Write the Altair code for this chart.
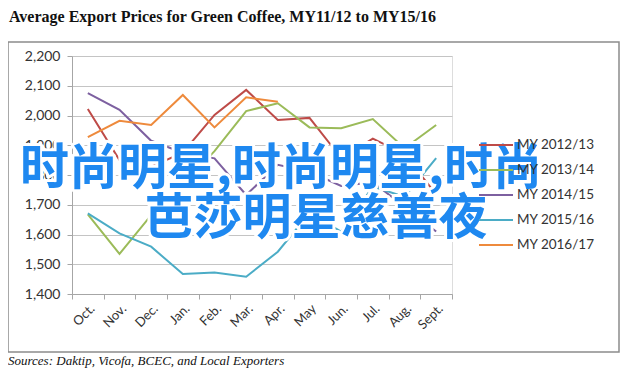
import altair as alt
import pandas as pd

months = ["Oct.", "Nov.", "Dec.", "Jan.", "Feb.", "Mar.", "Apr.", "May", "Jun.", "Jul.", "Aug.", "Sept."]
series_names = ["MY 2012/13", "MY 2013/14", "MY 2014/15", "MY 2015/16", "MY 2016/17"]
my1213 = [2022, 1850, 1828, 1875, 2002, 2086, 1985, 1992, 1857, 1922, 1870, 1735]
my1314 = [1668, 1535, 1665, 1770, 1880, 2015, 2041, 1960, 1957, 1988, 1890, 1968]
my1415 = [2075, 2019, 1915, 1875, 1856, 1733, 1834, 1811, 1763, 1776, 1693, 1610]
my1516 = [1671, 1604, 1559, 1467, 1472, 1458, 1542, 1672, 1610, 1761, 1727, 1857]
my1617 = [1927, 1982, 1968, 2069, 1960, 2061, 2046]
y_ticks = [1400, 1500, 1600, 1700, 1800, 1900, 2000, 2100, 2200]

title_text = "Average Export Prices for Green Coffee, MY11/12 to MY15/16"
source_text = "Sources: Daktip, Vicofa, BCEC, and Local Exporters"
overlay_line1 = "时尚明星,时尚明星,时尚"
overlay_line2 = "芭莎明星慈善夜"

colors = ["#BE4B48", "#9BBB59", "#7D60A0", "#4BACC6", "#EE8A3C"]
widths = [2, 2, 2, 2, 5]

rows = []
for name, vals in zip(series_names, [my1213, my1314, my1415, my1516, my1617]):
    for m, v in zip(months, vals):
        rows.append({"month": m, "series": name, "price": v})
df = pd.DataFrame(rows)

legend_kw = dict(
    title=None, orient="none", legendX=406, legendY=71,
    symbolType="stroke", symbolSize=1156, labelFont="Lato", labelFontSize=13.5,
    labelColor="#333333", labelOffset=3, rowPadding=-2, padding=0,
)

lines = alt.Chart(df).mark_line(strokeJoin="miter").encode(
    x=alt.X("month:N", sort=months,
            scale=alt.Scale(type="band", paddingInner=0, paddingOuter=0),
            axis=alt.Axis(title=None, tickBand="extent", labelAngle=-45, grid=False,
                          domainColor="#A6A6A6", tickColor="#A6A6A6", tickSize=5,
                          labelFont="Lato", labelFontSize=13, labelColor="#333333",
                          labelPadding=3)),
    y=alt.Y("price:Q", scale=alt.Scale(domain=[1400, 2200], nice=False, zero=False),
            axis=alt.Axis(title=None, values=y_ticks, format=",.0f", grid=True,
                          gridColor="#C4C4C4", domainColor="#A6A6A6", tickColor="#A6A6A6",
                          tickSize=5, labelFont="Lato", labelFontSize=14,
                          labelColor="#333333", labelPadding=7)),
    color=alt.Color("series:N", sort=series_names,
                    scale=alt.Scale(domain=series_names, range=colors),
                    legend=alt.Legend(**legend_kw)),
    strokeWidth=alt.StrokeWidth("series:N", sort=series_names,
                                scale=alt.Scale(domain=series_names, range=widths),
                                legend=alt.Legend(**legend_kw)),
    detail="series:N",
)

one = pd.DataFrame({"k": [0]})

frame = alt.Chart(one).mark_rect(fillOpacity=0, stroke="#8C8C8C", strokeWidth=1.5).encode(
    x=alt.value(-64), x2=alt.value(547), y=alt.value(-14), y2=alt.value(296)
)

title = alt.Chart(pd.DataFrame({"t": [title_text]})).mark_text(
    font="Liberation Serif", fontWeight="bold", fontSize=16, align="left",
    baseline="alphabetic", color="#111111"
).encode(text="t:N", x=alt.value(-63), y=alt.value(-34))

source = alt.Chart(pd.DataFrame({"t": [source_text]})).mark_text(
    font="Liberation Serif", fontStyle="italic", fontSize=13, align="left",
    baseline="alphabetic", color="#111111"
).encode(text="t:N", x=alt.value(-64), y=alt.value(309))


def overlay(text, x, y):
    d = pd.DataFrame({"t": [text]})
    halo = alt.Chart(d).mark_text(
        font="Noto Sans CJK SC", fontWeight="bold", fontSize=49, align="center",
        baseline="middle", fill="white", stroke="white", strokeWidth=6, strokeJoin="round"
    ).encode(text="t:N", x=alt.value(x), y=alt.value(y))
    fill = alt.Chart(d).mark_text(
        font="Noto Sans CJK SC", fontWeight="bold", fontSize=49, align="center",
        baseline="middle", fill="#1E88F0"
    ).encode(text="t:N", x=alt.value(x), y=alt.value(y))
    return halo, fill


h1, f1 = overlay(overlay_line1, 209, 113)
h2, f2 = overlay(overlay_line2, 244, 163)

chart = alt.layer(frame, lines, title, source, h1, h2, f1, f2).properties(
    width=380, height=238,
    padding={"left": 64, "top": 48, "right": 168, "bottom": 76},
    autosize=alt.AutoSizeParams(type="none"),
).configure_view(stroke=None).configure(background="white")

chart.save("out.html", embed_options={"renderer": "svg", "actions": False})
